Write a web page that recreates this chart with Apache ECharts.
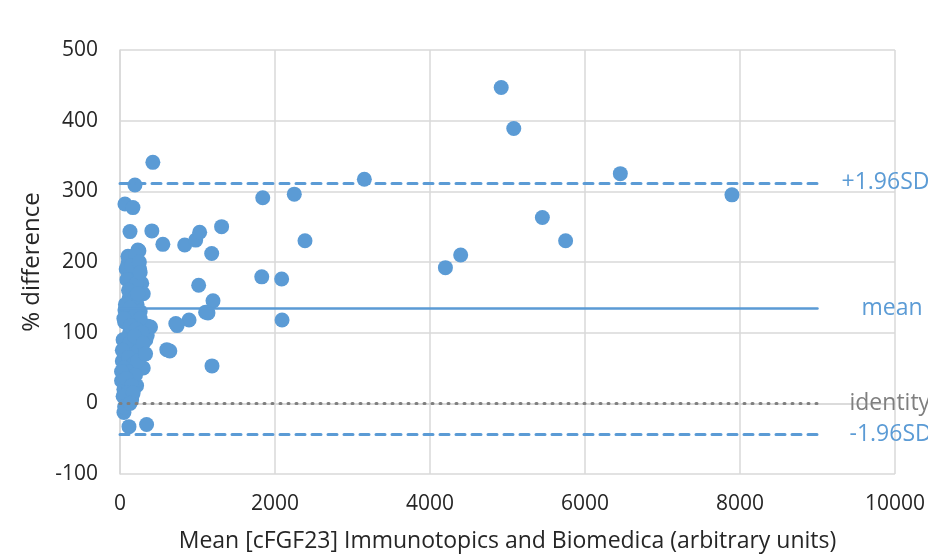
<!DOCTYPE html>
<html>
<head>
<meta charset="utf-8">
<script src="https://cdn.jsdelivr.net/npm/echarts@6/dist/echarts.min.js"></script>
<style>
  html, body { margin: 0; padding: 0; background: #fff; }
  #chart { width: 928px; height: 558px; }
</style>
</head>
<body>
<div id="chart"></div>
<script>
// Bland-Altman: mean concentration vs % difference
var meanConc = [
  424, 193, 64, 167, 129, 1311, 411, 244, 553, 835, 977, 1028, 1183, 1015, 1200,
  1135, 1105, 891, 737, 720, 604, 643, 1187, 334, 300, 343, 116, 51, 394, 351,
  1842, 2249, 2387, 3153, 1829, 2086, 2091, 4919, 5081, 4199, 4396, 5450, 5750, 6456, 7896,
  231, 103, 360, 20, 214, 158, 64, 128, 107, 253,
  100, 180, 230, 160, 200, 150, 250, 120, 280, 140, 220, 300, 90, 260,
  170, 60, 110, 80, 70, 30, 190, 40, 210, 130, 50, 240, 270, 150, 90,
  80, 120, 200, 150, 250, 90, 210, 260, 110, 190, 230, 70, 130, 200, 260,
  50, 140, 210, 280, 40, 120, 190, 240, 30, 110, 170, 50, 130, 200, 20,
  80, 150, 100, 40, 170, 60, 130, 230, 300, 330
];
var pctDiff = [
  341, 309, 282, 277, 243, 250, 244, 216, 225, 224, 231, 242, 212, 167, 145,
  128, 129, 118, 110, 113, 76, 74, 53, 90, 50, -30, -33, -13, 108, 96,
  291, 296, 230, 317, 179, 176, 118, 447, 389, 192, 210, 263, 230, 325, 295,
  217, 208, 109, 32, 25, 11, 132, 102, 200, 190,
  195, 200, 185, 175, 165, 180, 160, 150, 170, 145, 140, 155, 120, 130,
  125, 115, 95, 85, 70, 60, 85, 45, 65, 40, 20, 100, 80, 5, 30,
  190, 205, 210, 195, 200, 175, 170, 185, 160, 150, 155, 140, 135, 125, 120,
  120, 110, 105, 100, 90, 85, 95, 75, 75, 65, 55, 50, 45, 40, 45,
  35, 25, 15, 10, 15, -5, 0, 60, 85, 70
];

var meanDiff = 134;
var upperLoA = 312;
var lowerLoA = -44;
var identity = 0;
var lineEnd = 9000;

var BLUE = '#5B9BD5';
var GREY = '#7F7F7F';
var TEXT = '#262626';
var FONT = 'Open Sans';

var points = meanConc.map(function (x, i) { return [x, pctDiff[i]]; });

var refLine = function (y, label, color, type, width, dist) {
  return [
    { coord: [0, y], lineStyle: { color: color, type: type, width: width, cap: 'round' },
      label: { show: true, position: 'end', formatter: label, color: color,
               fontFamily: FONT, fontSize: 23, distance: dist } },
    { coord: [lineEnd, y] }
  ];
};

var chart = echarts.init(document.getElementById('chart'), null, { renderer: 'canvas' });
chart.setOption({
  animation: false,
  grid: { left: 120, right: 30, top: 50, bottom: 80, containLabel: false },
  xAxis: {
    type: 'value', min: 0, max: 10000, interval: 2000,
    name: 'Mean [cFGF23] Immunotopics and Biomedica (arbitrary units)',
    nameLocation: 'middle', nameGap: 56,
    nameTextStyle: { fontFamily: FONT, fontSize: 23, color: TEXT },
    axisLine: { show: true, lineStyle: { color: '#D9D9D9', width: 1.5 } },
    axisTick: { show: false },
    axisLabel: { fontFamily: FONT, fontSize: 21, color: TEXT, margin: 20,
                 formatter: function (v) { return String(v); } },
    splitLine: { show: true, lineStyle: { color: '#D9D9D9', width: 1.5 } }
  },
  yAxis: {
    type: 'value', min: -100, max: 500, interval: 100,
    name: '% difference', nameLocation: 'middle', nameGap: 75,
    nameTextStyle: { fontFamily: FONT, fontSize: 24, color: TEXT },
    axisLine: { show: true, lineStyle: { color: '#D9D9D9', width: 1.5 } },
    axisTick: { show: false },
    axisLabel: { fontFamily: FONT, fontSize: 21, color: TEXT, margin: 22 },
    splitLine: { show: true, lineStyle: { color: '#D9D9D9', width: 1.5 } }
  },
  series: [{
    type: 'scatter',
    data: points,
    symbolSize: 15,
    itemStyle: { color: BLUE, opacity: 1 },
    markLine: {
      silent: true,
      symbol: 'none',
      data: [
        refLine(identity, 'identity', GREY, [1, 7], 3, 32),
        refLine(meanDiff, 'mean', BLUE, 'solid', 2.5, 44),
        refLine(upperLoA, '+1.96SD', BLUE, [9, 7], 3, 24),
        refLine(lowerLoA, '-1.96SD', BLUE, [9, 7], 3, 32)
      ]
    },
    z: 3
  }]
});
</script>
</body>
</html>
